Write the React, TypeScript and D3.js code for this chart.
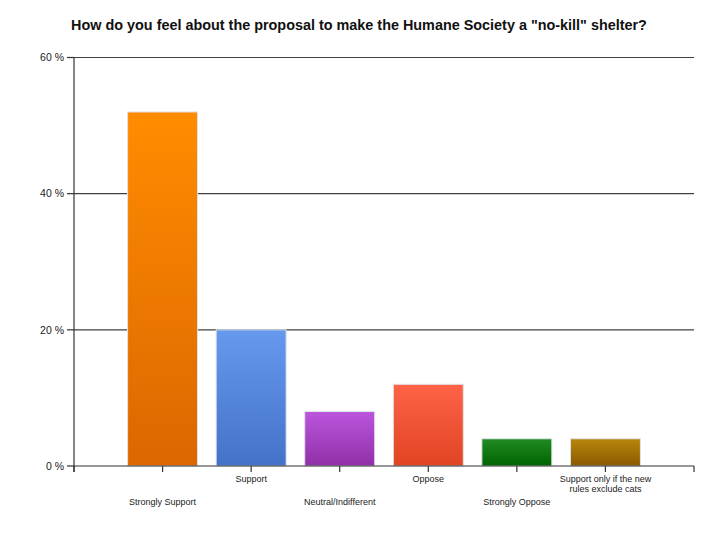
import * as d3 from 'd3';
import { ReactElement } from 'react';

// ─ Data ─────────────────────────────────────────────────────────────────────────────────────────
const title = 'How do you feel about the proposal to make the Humane Society a "no-kill" shelter?';
const categories: string[][] = [
  ['Strongly Support'],
  ['Support'],
  ['Neutral/Indifferent'],
  ['Oppose'],
  ['Strongly Oppose'],
  ['Support only if the new', 'rules exclude cats'],
];
const values = [52, 20, 8, 12, 4, 4];
const yTicks = [0, 20, 40, 60];
const topColors = ['#ff8c00', '#6699ee', '#bb55dd', '#ff6347', '#228b22', '#b8860b'];
const bottomColors = ['#dd6600', '#4472c8', '#9030a8', '#e04424', '#006400', '#8b5a00'];

const WIDTH = 720;
const HEIGHT = 540;
const margin = { top: 57.5, right: 26, bottom: 74, left: 74 };
const font = 'Liberation Sans, Arial, sans-serif';

const App = (): ReactElement => {
  const chartWidth = WIDTH - margin.left - margin.right;
  const chartHeight = HEIGHT - margin.top - margin.bottom;

  const keys = categories.map((_, i) => String(i));
  const xScale = d3.scalePoint<string>().domain(keys).range([0, chartWidth]).padding(1);
  const yScale = d3.scaleLinear().domain([0, 60]).range([chartHeight, 0]);
  const barWidth = xScale.step() * 0.79;

  return (
    <svg width={WIDTH} height={HEIGHT} style={{ position: 'absolute', left: 0, top: 0, background: '#fff' }}>
      <defs>
        {topColors.map((c, i) => (
          <linearGradient key={i} id={`grad${i}`} x1="0" y1="0" x2="0" y2="1">
            <stop offset="0%" stopColor={c} />
            <stop offset="100%" stopColor={bottomColors[i]} />
          </linearGradient>
        ))}
      </defs>

      <text x={359} y={30} textAnchor="middle" fontFamily={font} fontWeight="bold" fontSize={14.4} fill="#111">
        {title}
      </text>

      <g transform={`translate(${margin.left},${margin.top})`}>
        {/* grid lines */}
        {yTicks.filter(t => t > 0).map(t => (
          <line key={t} x1={0} x2={chartWidth} y1={yScale(t)} y2={yScale(t)} stroke="#404040" strokeWidth={1.2} />
        ))}

        {/* bars */}
        {values.map((v, i) => (
          <rect
            key={i}
            x={(xScale(String(i)) || 0) - barWidth / 2}
            y={yScale(v)}
            width={barWidth}
            height={chartHeight - yScale(v)}
            fill={`url(#grad${i})`}
            stroke="#dde4ea"
            strokeWidth={1}
          />
        ))}

        {/* y axis */}
        <line x1={0} x2={0} y1={0} y2={chartHeight + 6} stroke="#333" strokeWidth={1.2} />
        {yTicks.map(t => (
          <g key={t} transform={`translate(0,${yScale(t)})`}>
            <line x1={-7} x2={0} stroke="#333" strokeWidth={1.2} />
            <text x={-10} dy="0.35em" textAnchor="end" fontFamily={font} fontSize={10.5} fill="#222">
              {`${t} %`}
            </text>
          </g>
        ))}

        {/* x axis */}
        <line x1={0} x2={chartWidth} y1={chartHeight} y2={chartHeight} stroke="#333" strokeWidth={1.2} />
        {[0, chartWidth].map(x => (
          <line key={x} x1={x} x2={x} y1={chartHeight} y2={chartHeight + 6} stroke="#333" strokeWidth={1.2} />
        ))}
        {keys.map((k, i) => {
          const x = xScale(k) || 0;
          const baseY = chartHeight + (i % 2 === 0 ? 39 : 16);
          return (
            <g key={k}>
              <line x1={x} x2={x} y1={chartHeight} y2={chartHeight + 6} stroke="#333" strokeWidth={1.2} />
              {categories[i].map((line, j) => (
                <text key={j} x={x} y={baseY + j * 10} textAnchor="middle" fontFamily={font} fontSize={9} fill="#222">
                  {line}
                </text>
              ))}
            </g>
          );
        })}
      </g>
    </svg>
  );
};

export default App;
